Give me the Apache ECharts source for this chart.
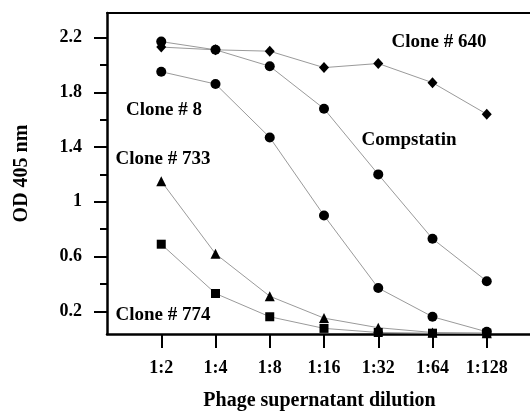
<!DOCTYPE html>
<html>
<head>
<meta charset="utf-8">
<script src="https://cdn.jsdelivr.net/npm/echarts@6/dist/echarts.min.js"></script>
<style>html,body{margin:0;padding:0;background:#fff}#c{width:530px;height:412px}</style>
</head>
<body>
<div id="c"></div>
<script>
var categories = ['1:2', '1:4', '1:8', '1:16', '1:32', '1:64', '1:128'];
var clone640 = [2.13, 2.11, 2.10, 1.98, 2.01, 1.87, 1.64];
var compstatin = [2.17, 2.11, 1.99, 1.68, 1.20, 0.73, 0.42];
var clone8 = [1.95, 1.86, 1.47, 0.90, 0.37, 0.16, 0.05];
var clone733 = [1.15, 0.62, 0.31, 0.15, 0.08, 0.045, 0.04];
var clone774 = [0.69, 0.33, 0.16, 0.075, 0.045, 0.04, 0.04];
var yMajorTicks = [0.2, 0.6, 1, 1.4, 1.8, 2.2];
var yMinorTicks = [0.4, 0.8, 1.2, 1.6, 2.0];

var FONT = 'Liberation Serif';
var xPositions = categories.map(function (c, i) { return i + 1; });
function toPairs(arr) { return arr.map(function (v, i) { return [xPositions[i], v]; }); }

function mkSeries(name, data, symbol, size) {
  return {
    name: name, type: 'line', data: toPairs(data),
    symbol: symbol, symbolSize: size, showSymbol: true,
    itemStyle: { color: '#000' },
    lineStyle: { color: '#9a9a9a', width: 1 },
    z: 3, animation: false
  };
}

var chart = echarts.init(document.getElementById('c'));
chart.setOption({
  backgroundColor: '#fff',
  animation: false,
  grid: { left: 107, top: 13, right: -11, bottom: 78, containLabel: false, outerBoundsMode: 'none' },
  xAxis: [{
    type: 'value', min: 0, max: 8, position: 'bottom',
    name: 'Phage supernatant dilution', nameLocation: 'middle', nameGap: 57,
    nameTextStyle: { fontFamily: FONT, fontWeight: 'bold', fontSize: 20, color: '#000', padding: [0, 9, 0, 0] },
    axisLine: { show: true, lineStyle: { color: '#000', width: 2.5 } },
    axisTick: { show: true, length: 14, lineStyle: { color: '#000', width: 2 }, customValues: xPositions },
    axisLabel: { show: true, margin: 25, fontFamily: FONT, fontWeight: 'bold', fontSize: 18, color: '#000',
      customValues: xPositions,
      formatter: function (v) { return categories[Math.round(v) - 1] || ''; } },
    splitLine: { show: false }
  }, {
    type: 'value', min: 0, max: 8, position: 'top',
    axisLine: { show: true, lineStyle: { color: '#000', width: 2 } },
    axisTick: { show: false }, axisLabel: { show: false }, splitLine: { show: false }
  }],
  yAxis: [{
    type: 'value', min: 0.034, max: 2.379, position: 'left', offset: 0,
    name: 'OD 405 nm', nameLocation: 'middle', nameRotate: 90, nameGap: 75,
    nameTextStyle: { fontFamily: FONT, fontWeight: 'bold', fontSize: 20, color: '#000' },
    axisLine: { show: true, lineStyle: { color: '#000', width: 2.5 } },
    axisTick: { show: true, length: 13, lineStyle: { color: '#000', width: 2 }, customValues: yMajorTicks },
    axisLabel: { show: true, margin: 25, fontFamily: FONT, fontWeight: 'bold', fontSize: 18, color: '#000',
      customValues: yMajorTicks,
      formatter: function (v) { return String(Math.round(v * 10) / 10); } },
    splitLine: { show: false }
  }, {
    type: 'value', min: 0.034, max: 2.379, position: 'left', offset: 0,
    axisLine: { show: false },
    axisTick: { show: true, length: 7, lineStyle: { color: '#000', width: 2 }, customValues: yMinorTicks },
    axisLabel: { show: false }, splitLine: { show: false }
  }],
  series: [
    mkSeries('Clone # 640', clone640, 'diamond', [10, 11]),
    mkSeries('Compstatin', compstatin, 'circle', 10),
    mkSeries('Clone # 8', clone8, 'circle', 10),
    mkSeries('Clone # 733', clone733, 'triangle', 10),
    mkSeries('Clone # 774', clone774, 'rect', 9)
  ],
  graphic: [
    { type: 'text', x: 439, y: 42, style: { text: 'Clone # 640', font: 'bold 19px "Liberation Serif"', fill: '#000', align: 'center', verticalAlign: 'middle' } },
    { type: 'text', x: 409, y: 140, style: { text: 'Compstatin', font: 'bold 19px "Liberation Serif"', fill: '#000', align: 'center', verticalAlign: 'middle' } },
    { type: 'text', x: 164, y: 110, style: { text: 'Clone # 8', font: 'bold 19px "Liberation Serif"', fill: '#000', align: 'center', verticalAlign: 'middle' } },
    { type: 'text', x: 163, y: 159, style: { text: 'Clone # 733', font: 'bold 19px "Liberation Serif"', fill: '#000', align: 'center', verticalAlign: 'middle' } },
    { type: 'text', x: 163, y: 315, style: { text: 'Clone # 774', font: 'bold 19px "Liberation Serif"', fill: '#000', align: 'center', verticalAlign: 'middle' } }
  ]
});
</script>
</body>
</html>
